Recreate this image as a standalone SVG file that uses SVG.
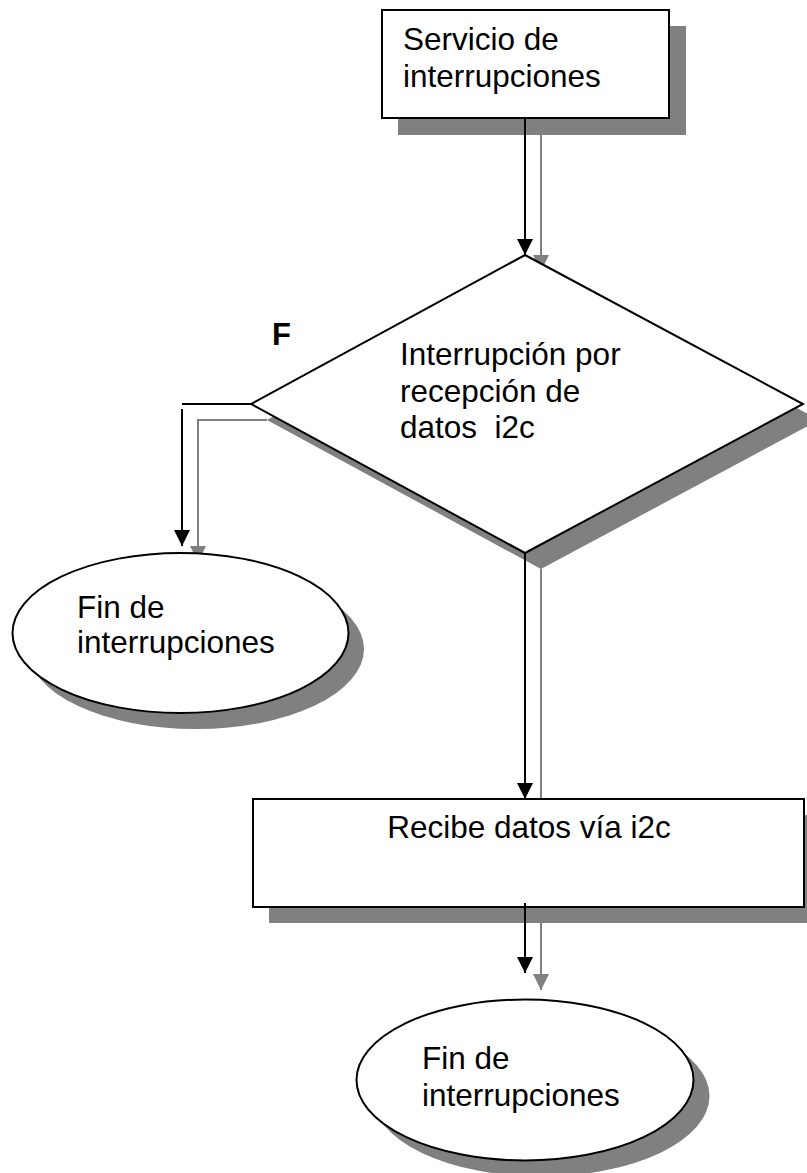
<svg xmlns="http://www.w3.org/2000/svg" width="807" height="1173" viewBox="0 0 807 1173">
<style>
.sh{fill:#808080;stroke:none}
.shl{fill:none;stroke:#808080;stroke-width:2}
.node{fill:#fff;stroke:#000;stroke-width:2}
.con{fill:none;stroke:#000;stroke-width:2}
.t{font-family:"Liberation Sans",Arial,sans-serif;font-size:31.5px;fill:#000}
.tb{font-family:"Liberation Sans",Arial,sans-serif;font-size:31px;font-weight:bold;fill:#000}
</style>
<defs>
<marker id="ab" markerUnits="userSpaceOnUse" markerWidth="16" markerHeight="16" viewBox="0 0 16 16" refX="16" refY="8" orient="auto"><path d="M0,0 L16,8 L0,16 Z" fill="#000"/></marker>
<marker id="ag" markerUnits="userSpaceOnUse" markerWidth="16" markerHeight="16" viewBox="0 0 16 16" refX="16" refY="8" orient="auto"><path d="M0,0 L16,8 L0,16 Z" fill="#808080"/></marker>
</defs>
<g id="shadows">
<rect class="sh" x="398" y="26" width="288" height="109"/>
<polygon class="sh" points="541,271 819,420 541,569 267,420"/>
<ellipse class="sh" cx="196" cy="649" rx="168" ry="80"/>
<rect class="sh" x="269" y="815" width="551" height="108"/>
<ellipse class="sh" cx="541" cy="1096" rx="168.5" ry="80.5"/>
</g>
<g id="connector-shadows">
<path class="shl" d="M541,135 V271" marker-end="url(#ag)"/>
<path class="shl" d="M267,420 H198 V562" marker-end="url(#ag)"/>
<path class="shl" d="M541,569 V815" marker-end="url(#ag)"/>
<path class="shl" d="M541,923 V990" marker-end="url(#ag)"/>
</g>
<g id="n-servicio">
<rect class="node" x="382" y="10" width="287" height="108"/>
<text class="t" x="403" y="50">Servicio de</text>
<text class="t" x="403" y="87">interrupciones</text>
</g>
<g id="n-decision">
<polygon class="node" points="525,255 803,404 525,553 251,404"/>
<text class="t" x="400" y="365">Interrupción por</text>
<text class="t" x="400" y="402">recepción de</text>
<text class="t" x="400" y="438" style="white-space:pre">datos  i2c</text>
</g>
<g id="n-fin1">
<ellipse class="node" cx="180.5" cy="633" rx="168" ry="80"/>
<text class="t" x="77" y="618">Fin de</text>
<text class="t" x="77" y="653">interrupciones</text>
</g>
<g id="n-recibe">
<rect class="node" x="253" y="799" width="551" height="108"/>
<text class="t" x="529" y="838" text-anchor="middle">Recibe datos vía i2c</text>
</g>
<g id="n-fin2">
<ellipse class="node" cx="525" cy="1080" rx="168.5" ry="80.5"/>
<text class="t" x="422" y="1069">Fin de</text>
<text class="t" x="422" y="1106">interrupciones</text>
</g>
<g id="connectors">
<path class="con" d="M525,118 V255" marker-end="url(#ab)"/>
<path class="con" d="M251,404 H182"/>
<path class="con" d="M182,409 V546" marker-end="url(#ab)"/>
<path class="con" d="M525,553 V799" marker-end="url(#ab)"/>
<path class="con" d="M525,903 V973" marker-end="url(#ab)"/>
<text class="tb" x="272" y="345">F</text>
</g>
</svg>
